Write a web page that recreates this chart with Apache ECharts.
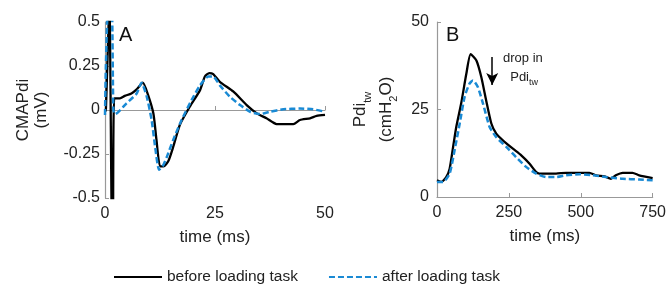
<!DOCTYPE html>
<html>
<head>
<meta charset="utf-8">
<script src="https://cdn.jsdelivr.net/npm/echarts@6/dist/echarts.min.js"></script>
<style>
  html, body { margin: 0; padding: 0; background: #fff; }
  #chart { width: 669px; height: 284px; }
</style>
</head>
<body>
<div id="chart"></div>
<script>
// panel A: CMAPdi (mV) vs time (ms)
var cmapBefore = [
  [0, -0.01], [0.2, 0], [1.0, 0.6], [1.6, -0.7], [1.8, -0.7], [2.1, 0.066], [3.4, 0.066],
  [4.5, 0.08], [6, 0.094], [7.2, 0.117], [8.6, 0.155], [9.8, 0.085], [11, -0.02],
  [11.7, -0.17], [12.5, -0.32], [13.3, -0.32], [14.4, -0.29], [15.5, -0.21],
  [17, -0.085], [19.3, 0.02], [21.6, 0.113], [22.7, 0.19], [23.7, 0.21], [24.6, 0.204],
  [26.1, 0.16], [29.2, 0.104], [32.2, 0.028], [34.5, -0.019], [36.7, -0.047],
  [39, -0.08], [41.3, -0.08], [42.8, -0.08], [44.3, -0.057], [46.6, -0.047],
  [48.1, -0.034], [50, -0.028]
];
var cmapAfter = [
  [0, -0.028], [0.2, 0.245], [0.75, 0.6], [1.5, 0.6], [1.9, 0], [2.3, -0.023],
  [4.9, 0.038], [7.2, 0.094], [8.3, 0.155], [9.5, 0.075], [10.6, -0.057], [11.4, -0.21],
  [12.3, -0.34], [13.1, -0.32], [14, -0.27], [15.5, -0.17], [17.4, -0.057], [19.7, 0.057],
  [21.6, 0.14], [23.5, 0.19], [24.6, 0.19], [26.1, 0.14], [28.4, 0.075], [30.7, 0.028],
  [33, -0.01], [35.2, -0.023], [37.5, -0.01], [40.5, 0.004], [44.3, 0.008],
  [47.3, 0.004], [50, -0.01]
];
// panel B: Pdi_tw (cmH2O) vs time (ms)
var pdiBefore = [
  [0, 4.8], [15, 4.3], [32, 5.7], [44, 8.1], [56, 14.3], [67, 20], [84, 26.7],
  [102, 35.2], [117, 40.8], [137, 39], [154, 34.3], [171, 27.6], [189, 21], [206, 18.1],
  [229, 16.2], [264, 13.8], [293, 11.9], [322, 9.5], [345, 7.1], [356, 6.7], [414, 6.7],
  [449, 6.9], [530, 6.9], [553, 6.2], [582, 5.9], [605, 5.2], [622, 6.2], [646, 6.9],
  [680, 6.9], [703, 6.2], [750, 5.4]
];
var pdiAfter = [
  [0, 4.3], [21, 4.3], [44, 6.7], [61, 13.3], [79, 21], [96, 28.6], [113, 32.4],
  [125, 33.3], [142, 31.4], [160, 26.7], [183, 20], [206, 17.1], [241, 14.3],
  [275, 11.4], [310, 8.6], [345, 6.7], [380, 5.7], [414, 5.7], [449, 6.2], [495, 6.5],
  [541, 6.2], [588, 5.7], [646, 5.2], [703, 5], [750, 4.8]
];
var cmapTicks = [-0.5, -0.25, 0, 0.25, 0.5];
var dropArrow = [[192, 40], [192, 32]];

var font = 'Liberation Sans, Arial, sans-serif';
var black = '#000';
var blue = '#1a8ad4';

function axisBase() {
  return {
    axisLine: { show: true, lineStyle: { color: '#999', width: 1.2 } },
    axisTick: { show: true, inside: true, length: 4, lineStyle: { color: '#999' } },
    splitLine: { show: false },
    axisLabel: { color: '#222', fontSize: 16, fontFamily: font },
    nameTextStyle: { color: '#222', fontSize: 17, fontFamily: font, lineHeight: 18 }
  };
}

var xA = Object.assign(axisBase(), {
  type: 'value', gridIndex: 0, min: 0, max: 50, interval: 25,
  name: 'time (ms)', nameLocation: 'middle', nameGap: 30
});
var yA = Object.assign(axisBase(), {
  type: 'value', gridIndex: 0, min: -0.5, max: 0.5, interval: 0.25,
  name: 'CMAPdi\n(mV)', nameLocation: 'middle', nameGap: 55, nameRotate: 90,
  axisLabel: {
    color: '#222', fontSize: 16, fontFamily: font, margin: 5,
    formatter: function (v) { return cmapTicks.indexOf(v) >= 0 ? String(v) : ''; }
  }
});
var xB = Object.assign(axisBase(), {
  type: 'value', gridIndex: 1, min: 0, max: 750, interval: 250,
  name: 'time (ms)', nameLocation: 'middle', nameGap: 30
});
var yB = Object.assign(axisBase(), {
  type: 'value', gridIndex: 1, min: 0, max: 50, interval: 25,
  name: '{a|Pdi}{s|tw}\n{a|(cmH}{s|2}{a|O)}', nameLocation: 'middle', nameGap: 38, nameRotate: 90,
  nameTextStyle: {
    color: '#222', fontSize: 17, fontFamily: font, lineHeight: 26,
    rich: {
      a: { fontSize: 17, fontFamily: font, color: '#222', lineHeight: 26 },
      s: { fontSize: 11, fontFamily: font, color: '#222', lineHeight: 24, verticalAlign: 'bottom' }
    }
  }
});

var option = {
  backgroundColor: '#fff',
  animation: false,
  grid: [
    { left: 105, top: 22, width: 220, height: 176 },
    { left: 437, top: 22, width: 216, height: 175 }
  ],
  xAxis: [xA, xB],
  yAxis: [yA, yB],
  legend: {
    bottom: -6, left: 108, itemWidth: 48, itemHeight: 10, itemGap: 30,
    itemStyle: { opacity: 0 },
    textStyle: { color: '#222', fontSize: 15.5, fontFamily: font },
    data: ['before loading task', 'after loading task']
  },
  series: [
    {
      name: 'before loading task', type: 'line', xAxisIndex: 0, yAxisIndex: 0,
      data: cmapBefore, showSymbol: false, symbol: 'none', smooth: 0.2,
      lineStyle: { color: black, width: 2.3 }, itemStyle: { color: black }, z: 2
    },
    {
      name: 'after loading task', type: 'line', xAxisIndex: 0, yAxisIndex: 0,
      data: cmapAfter, showSymbol: false, symbol: 'none', smooth: 0.2,
      lineStyle: { color: blue, width: 2.5, type: [6, 3] }, itemStyle: { color: blue }, z: 3
    },
    {
      name: 'before loading task', type: 'line', xAxisIndex: 1, yAxisIndex: 1,
      data: pdiBefore, showSymbol: false, symbol: 'none', smooth: 0.2,
      lineStyle: { color: black, width: 2.3 }, itemStyle: { color: black }, z: 2,
      markLine: {
        silent: true, symbol: ['none', 'arrow'], symbolSize: [9, 12],
        lineStyle: { color: black, width: 1.5, type: 'solid' },
        label: { show: false },
        data: [[{ coord: dropArrow[0] }, { coord: dropArrow[1] }]]
      }
    },
    {
      name: 'after loading task', type: 'line', xAxisIndex: 1, yAxisIndex: 1,
      data: pdiAfter, showSymbol: false, symbol: 'none', smooth: 0.2,
      lineStyle: { color: blue, width: 2.5, type: [6, 3] }, itemStyle: { color: blue }, z: 3
    }
  ],
  graphic: [
    { type: 'text', left: 119, top: 25, style: { text: 'A', fontSize: 20, fontFamily: font, fill: '#111' } },
    { type: 'text', left: 446, top: 25, style: { text: 'B', fontSize: 20, fontFamily: font, fill: '#111' } },
    {
      type: 'text', left: 503, top: 52,
      style: {
        text: '{a|drop in}\n{a|  Pdi}{s|tw}', fontFamily: font, fill: '#222',
        rich: {
          a: { fontSize: 13, fontFamily: font, fill: '#222', lineHeight: 19 },
          s: { fontSize: 9, fontFamily: font, fill: '#222', lineHeight: 18, verticalAlign: 'bottom' }
        }
      }
    }
  ]
};

echarts.init(document.getElementById('chart')).setOption(option);
</script>
</body>
</html>
